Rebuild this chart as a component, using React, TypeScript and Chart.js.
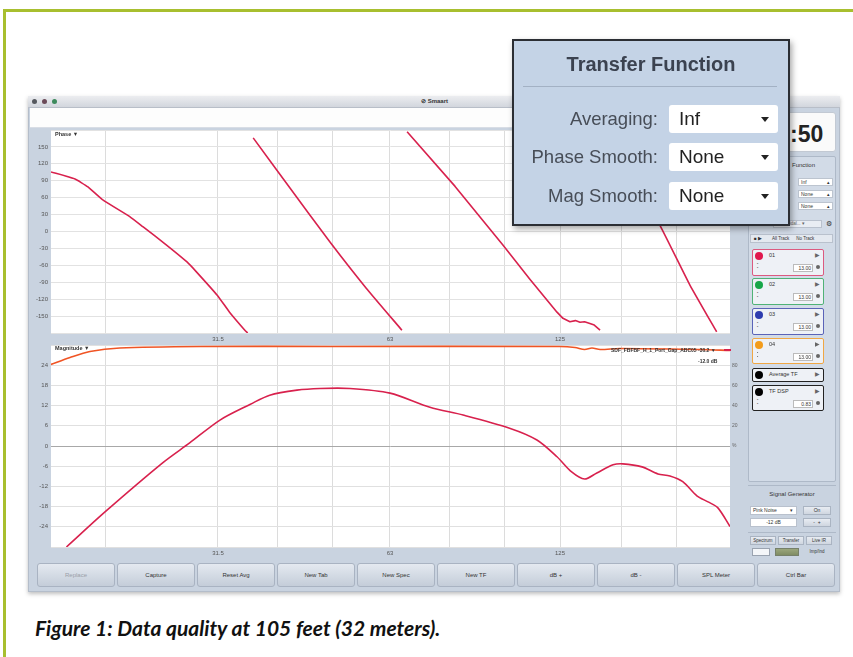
import React, { useEffect, useRef } from "react";
import { Chart, registerables } from "chart.js";

Chart.register(...registerables);

// ---------- DATA ----------
const F_MIN = 16.07;
const F_MAX = 248;
const freqGrid = [20, 31.5, 40, 50, 63, 80, 100, 125, 160, 200];
const freqLabelValues = [31.5, 63, 125];
const freqLabelTexts = ["31.5", "63", "125"];

const phaseTicks = [-180, -150, -120, -90, -60, -30, 0, 30, 60, 90, 120, 150, 180];
const magTicks = [-30, -24, -18, -12, -6, 0, 6, 12, 18, 24, 30];
const cohTicks = [0, 20, 40, 60, 80];

// magnitude (dB)
const magFreq = [17.1, 20, 25.2, 28.1, 31.75, 35.9, 38.8, 43.3, 47.5, 53.6, 63, 74, 84.6, 102, 113.9, 123.5, 131, 138, 145, 154.8, 161, 174, 185.5, 194.7, 205, 217, 227, 236, 248];
const magDb = [-30, -19.5, -5.0, 0.9, 7.7, 12.4, 15.1, 16.6, 17.1, 17.1, 15.7, 11.5, 9.2, 5.3, 1.8, -3.2, -7.7, -9.8, -8.0, -5.6, -5.3, -6.2, -8.3, -8.9, -10.6, -14.8, -16.6, -18.3, -23.9];

// coherence (%)
const cohFreq = [16.07, 17.35, 18.8, 21.2, 29.3, 49.5, 125, 132.8, 138, 142.2, 146.9, 159, 219.7, 248];
const cohPct = [80.8, 87.7, 93.6, 97, 98.5, 98.5, 98.5, 97.5, 95.5, 97, 95.5, 96.5, 95.5, 94.6];

// phase (deg), wrapped segments
const phase1Freq = [16.07, 17.7, 18.65, 19.8, 22.1, 23.3, 25.6, 27.8, 28.9, 31.4, 33.0, 35.1, 35.5];
const phase1Deg = [105.6, 93, 79, 56, 26, 8, -24, -54, -72, -113, -143, -175, -180];
const phase2Freq = [36.3, 42.1, 49.5, 57.2, 66.1];
const phase2Deg = [166, 77, -19, -100, -175];
const phase3Freq = [67.5, 81.9, 99.3, 110.8, 123.5, 126.5, 130.1, 133, 135.5, 138, 141, 143.5, 146.9];
const phase3Deg = [177, 80, -24, -85, -143, -154, -160, -158, -161, -160, -163, -166, -175];
const phase4Freq = [149.8, 187, 211, 235];
const phase4Deg = [178, 11, -95, -178];

const bottomButtons = ["Replace", "Capture", "Reset Avg", "New Tab", "New Spec", "New TF", "dB +", "dB -", "SPL Meter", "Ctrl Bar"];

// ---------- helpers ----------
const pts = (xs: number[], ys: number[]) => xs.map((x, i) => ({ x, y: ys[i] }));
const tickFont = { family: "'Liberation Sans', Arial, sans-serif", size: 6 };
const RED = "#d8214d";
const ORANGE = "#f05424";

const whiteArea = {
  id: "whiteArea",
  beforeDraw(chart: any) {
    const { ctx, chartArea: a } = chart;
    ctx.save();
    ctx.fillStyle = "#ffffff";
    ctx.fillRect(a.left, a.top, a.right - a.left, a.bottom - a.top);
    ctx.restore();
  },
};

const zeroPad = (s: any) => {
  s.paddingTop = 0;
  s.paddingBottom = 0;
  s.paddingLeft = 0;
  s.paddingRight = 0;
};

const xScale = (h: number) => ({
  type: "logarithmic",
  min: F_MIN,
  max: F_MAX,
  afterBuildTicks: (s: any) => {
    s.ticks = freqGrid.map((v) => ({ value: v }));
  },
  afterFit: (s: any) => {
    s.height = h;
    zeroPad(s);
  },
  ticks: {
    autoSkip: false,
    maxRotation: 0,
    minRotation: 0,
    padding: 3,
    font: tickFont,
    color: "#555",
    callback: (v: any) => {
      const i = freqLabelValues.findIndex((f) => Math.abs(f - Number(v)) < 0.01);
      return i >= 0 ? freqLabelTexts[i] : "";
    },
  },
  grid: { color: "#dcdcdc", drawTicks: false, lineWidth: 1 },
  border: { display: false },
});

const lineDs = (data: any[], color: string, width: number, tension: number, yAxisID = "y") => ({
  data,
  borderColor: color,
  borderWidth: width,
  pointRadius: 0,
  tension,
  fill: false,
  yAxisID,
  borderJoinStyle: "round",
});

function PhaseChart() {
  const ref = useRef<HTMLCanvasElement>(null);
  useEffect(() => {
    const chart = new Chart(ref.current as HTMLCanvasElement, {
      type: "line",
      data: {
        datasets: [
          lineDs(pts(phase1Freq, phase1Deg), RED, 1.6, 0.15),
          lineDs(pts(phase2Freq, phase2Deg), RED, 1.6, 0.15),
          lineDs(pts(phase3Freq, phase3Deg), RED, 1.6, 0),
          lineDs(pts(phase4Freq, phase4Deg), RED, 1.6, 0.1),
        ] as any,
      },
      options: {
        animation: false,
        responsive: false,
        maintainAspectRatio: false,
        events: [],
        layout: { padding: { top: 2, right: 12, left: 0, bottom: 0 } },
        plugins: { legend: { display: false }, tooltip: { enabled: false } },
        scales: {
          x: xScale(12) as any,
          y: {
            min: -180,
            max: 180,
            afterBuildTicks: (s: any) => {
              s.ticks = phaseTicks.map((v) => ({ value: v }));
            },
            afterFit: (s: any) => {
              s.width = 21;
              zeroPad(s);
            },
            ticks: {
              font: tickFont,
              color: "#555",
              padding: 3,
              callback: (v: any) => (Math.abs(Number(v)) === 180 ? "" : String(v)),
            },
            grid: { color: "#e2e2e2", drawTicks: false },
            border: { display: false },
          },
        },
      },
      plugins: [whiteArea],
    });
    return () => chart.destroy();
  }, []);
  return <canvas ref={ref} width={712} height={217} style={{ display: "block" }} />;
}

function MagChart() {
  const ref = useRef<HTMLCanvasElement>(null);
  useEffect(() => {
    const chart = new Chart(ref.current as HTMLCanvasElement, {
      type: "line",
      data: {
        datasets: [
          lineDs(pts(cohFreq, cohPct), ORANGE, 1.6, 0.3, "yc"),
          lineDs(pts(magFreq, magDb), RED, 1.6, 0.3, "y"),
        ] as any,
      },
      options: {
        animation: false,
        responsive: false,
        maintainAspectRatio: false,
        events: [],
        layout: { padding: { top: 0, right: 0, left: 0, bottom: 0 } },
        plugins: { legend: { display: false }, tooltip: { enabled: false } },
        scales: {
          x: xScale(14) as any,
          y: {
            min: -30,
            max: 30,
            afterBuildTicks: (s: any) => {
              s.ticks = magTicks.map((v) => ({ value: v }));
            },
            afterFit: (s: any) => {
              s.width = 21;
              zeroPad(s);
            },
            ticks: {
              font: tickFont,
              color: "#555",
              padding: 3,
              callback: (v: any) => (Math.abs(Number(v)) === 30 ? "" : String(v)),
            },
            grid: {
              color: (c: any) => (c.tick && c.tick.value === 0 ? "#a8a8a8" : "#e0e0e0"),
              drawTicks: false,
            },
            border: { display: false },
          },
          yc: {
            position: "right",
            min: -100,
            max: 100,
            afterBuildTicks: (s: any) => {
              s.ticks = cohTicks.map((v) => ({ value: v }));
            },
            afterFit: (s: any) => {
              s.width = 12;
              zeroPad(s);
            },
            ticks: {
              font: { ...tickFont, size: 5 },
              color: "#666",
              padding: 2,
              callback: (v: any) => (Number(v) === 0 ? "%" : String(v)),
            },
            grid: { display: false, drawTicks: false },
            border: { display: false },
          },
        },
      },
      plugins: [whiteArea],
    });
    return () => chart.destroy();
  }, []);
  return <canvas ref={ref} width={712} height={216} style={{ display: "block" }} />;
}

const A = (p: { l: number; t: number; w?: number; h?: number; s?: React.CSSProperties; children?: React.ReactNode }) => (
  <div style={{ position: "absolute", left: p.l, top: p.t, width: p.w, height: p.h, ...p.s }}>{p.children}</div>
);

const tiny: React.CSSProperties = { fontSize: 5.5, color: "#333", lineHeight: "7px", whiteSpace: "nowrap" };

function MeasBox(p: { t: number; h: number; color: string; dot: string; label: string; value?: string }) {
  return (
    <A l={752} t={p.t} w={72} h={p.h} s={{ border: `1.5px solid ${p.color}`, borderRadius: 2, background: "#eef1f6", boxSizing: "border-box" }}>
      <A l={2} t={2} w={8} h={8} s={{ borderRadius: "50%", background: p.dot }} />
      <A l={16} t={2} s={{ ...tiny }}>{p.label}</A>
      <A l={62} t={2} s={{ ...tiny, color: "#666" }}>▶</A>
      {p.value !== undefined && (
        <>
          <A l={4} t={12} s={{ ...tiny, fontSize: 4, lineHeight: "4px", color: "#777" }}>▪<br />▪</A>
          <A l={40} t={14} w={20} h={8} s={{ ...tiny, background: "#fff", border: "1px solid #bbb", textAlign: "right", fontSize: 5, lineHeight: "7px", boxSizing: "border-box", paddingRight: 1 }}>{p.value}</A>
          <A l={63} t={15} w={4} h={4} s={{ borderRadius: "50%", background: "#666" }} />
        </>
      )}
    </A>
  );
}

function Dropdown(p: { t: number; text: string }) {
  return (
    <A l={669} t={p.t} w={109} h={28} s={{ background: "#fff", borderRadius: 3 }}>
      <A l={10} t={3} s={{ fontSize: 19, color: "#222", lineHeight: "22px" }}>{p.text}</A>
      <A l={92} t={12} s={{ width: 0, height: 0, borderLeft: "4px solid transparent", borderRight: "4px solid transparent", borderTop: "5px solid #222" }} />
    </A>
  );
}

export default function App() {
  return (
    <div style={{ position: "absolute", left: 0, top: 0, width: 853, height: 657, background: "#fff", overflow: "hidden", fontFamily: "'Liberation Sans', Arial, sans-serif" }}>
      {/* green frame */}
      <A l={3} t={9} w={850} h={648} s={{ borderTop: "3px solid #a8bf2f", borderLeft: "3px solid #a8bf2f", boxSizing: "border-box" }} />

      {/* app window */}
      <A l={28} t={96} w={812} h={496} s={{ background: "#c9d3e0", border: "1px solid #b4bdca", boxShadow: "0 2px 4px rgba(0,0,0,0.25)", boxSizing: "border-box" }} />
      <A l={28} t={96} w={812} h={12} s={{ background: "linear-gradient(#ecedf0,#d2d6dd)", borderBottom: "1px solid #b8bec8", boxSizing: "border-box" }} />
      <A l={32} t={99} w={5} h={5} s={{ borderRadius: "50%", background: "#55585e" }} />
      <A l={42} t={99} w={5} h={5} s={{ borderRadius: "50%", background: "#6b4a58" }} />
      <A l={52} t={99} w={5} h={5} s={{ borderRadius: "50%", background: "#3d8a5c" }} />
      <A l={421} t={98} s={{ ...tiny, fontWeight: "bold", fontSize: 6 }}>⊘ Smaart</A>

      {/* toolbar strip */}
      <A l={30} t={108} w={712} h={20} s={{ background: "#fdfdfd", borderBottom: "1px solid #d8dde5", boxSizing: "border-box" }} />

      {/* charts */}
      <A l={30} t={128} w={712} h={217}>
        <PhaseChart />
      </A>
      <A l={30} t={345} w={712} h={216}>
        <MagChart />
      </A>
      <A l={55} t={131} s={{ ...tiny, fontWeight: "bold", fontSize: 5.5 }}>Phase ▼</A>
      <A l={55} t={345} s={{ ...tiny, fontWeight: "bold", fontSize: 5.5 }}>Magnitude ▼</A>
      <A l={611} t={347} s={{ ...tiny, fontWeight: "bold", fontSize: 5 }}>SDF_FBFBF_H_1_Port_Gap_ABC05 -30.2 ▼</A>
      <A l={698} t={358} s={{ ...tiny, fontWeight: "bold", fontSize: 5 }}>-12.0 dB</A>
      <A l={724} t={349} w={7} h={1.5} s={{ background: RED }} />

      {/* bottom buttons */}
      {bottomButtons.map((b, i) => (
        <A key={b} l={37 + i * 80} t={563} w={78} h={24} s={{ background: "linear-gradient(#e4e9f0,#c4cdd9)", border: "1px solid #a9b3c2", borderRadius: 3, boxSizing: "border-box", textAlign: "center", fontSize: 6, lineHeight: "22px", color: i === 0 ? "#9aa0a8" : "#333" }}>
          {b}
        </A>
      ))}

      {/* sidebar */}
      <A l={749} t={112} w={87} h={40} s={{ background: "#fafafa", borderRadius: 3, border: "1px solid #c2c9d3", boxSizing: "border-box" }} />
      <A l={790} t={121} s={{ fontSize: 23, fontWeight: "bold", color: "#222", lineHeight: "26px" }}>:50</A>
      <A l={748} t={156} w={88} h={326} s={{ background: "#d2dbe7", border: "1px solid #aeb9c8", boxSizing: "border-box", borderRadius: 2 }} />
      <A l={792} t={162} s={{ ...tiny, fontSize: 6 }}>Function</A>
      {["Inf", "None", "None"].map((t, i) => (
        <A key={i} l={798} t={178 + i * 12} w={35} h={8} s={{ ...tiny, background: "#fff", border: "1px solid #bcc4cf", boxSizing: "border-box", fontSize: 5, lineHeight: "6px", paddingLeft: 2 }}>
          {t}
          <span style={{ position: "absolute", right: 2, top: 0 }}>▴</span>
        </A>
      ))}
      <A l={752} t={221} s={{ ...tiny, fontSize: 5 }}>TRK</A>
      <A l={773} t={220} w={49} h={8} s={{ ...tiny, background: "#e9edf3", border: "1px solid #b9c1cd", boxSizing: "border-box", fontSize: 4.5, lineHeight: "6px", paddingLeft: 2, color: "#666" }}>Sinusoidal... ▾</A>
      <A l={826} t={220} s={{ ...tiny, fontSize: 7 }}>⚙</A>
      <A l={750} t={234} w={83} h={9} s={{ ...tiny, background: "#e4e9f0", border: "1px solid #b9c1cd", boxSizing: "border-box", fontSize: 4.5, lineHeight: "7px" }}>
        <span style={{ marginLeft: 3 }}>■ ▶</span>
        <span style={{ marginLeft: 10 }}>All Track</span>
        <span style={{ marginLeft: 7 }}>No Track</span>
      </A>
      <MeasBox t={249} h={27} color="#dc5a80" dot="#e0184e" label="01" value="13.00" />
      <MeasBox t={278} h={27} color="#4fb276" dot="#17a648" label="02" value="13.00" />
      <MeasBox t={308} h={27} color="#5a63b8" dot="#2e3caf" label="03" value="13.00" />
      <MeasBox t={338} h={26} color="#f0a744" dot="#f39c1b" label="04" value="13.00" />
      <MeasBox t={368} h={14} color="#222" dot="#000" label="Average TF" />
      <MeasBox t={385} h={26} color="#222" dot="#000" label="TF DSP" value="0.83" />

      {/* signal generator */}
      <A l={748} t={485} w={88} h={1} s={{ background: "#aeb9c8" }} />
      <A l={748} t={491} w={88} s={{ ...tiny, fontSize: 6, textAlign: "center" }}>Signal Generator</A>
      <A l={750} t={506} w={47} h={9} s={{ ...tiny, background: "#fff", border: "1px solid #b9c1cd", boxSizing: "border-box", fontSize: 5, lineHeight: "7px", paddingLeft: 2 }}>Pink Noise<span style={{ position: "absolute", right: 3 }}>▾</span></A>
      <A l={803} t={506} w={28} h={9} s={{ ...tiny, background: "linear-gradient(#e8ecf2,#cfd6e0)", border: "1px solid #aab4c2", boxSizing: "border-box", fontSize: 5, lineHeight: "7px", textAlign: "center" }}>On</A>
      <A l={750} t={518} w={47} h={9} s={{ ...tiny, background: "#fff", border: "1px solid #b9c1cd", boxSizing: "border-box", fontSize: 5, lineHeight: "7px", textAlign: "center" }}>-12 dB</A>
      <A l={803} t={518} w={28} h={9} s={{ ...tiny, background: "linear-gradient(#e8ecf2,#cfd6e0)", border: "1px solid #aab4c2", boxSizing: "border-box", fontSize: 5, lineHeight: "7px", textAlign: "center" }}>-&nbsp;&nbsp;+</A>
      <A l={748} t={532} w={88} h={1} s={{ background: "#aeb9c8" }} />
      {["Spectrum", "Transfer", "Live IR"].map((t, i) => (
        <A key={t} l={750 + i * 28} t={536} w={26} h={9} s={{ ...tiny, background: "linear-gradient(#e8ecf2,#cfd6e0)", border: "1px solid #aab4c2", boxSizing: "border-box", fontSize: 4.5, lineHeight: "7px", textAlign: "center" }}>{t}</A>
      ))}
      <A l={752} t={548} w={18} h={8} s={{ background: "#f4f6f9", border: "1px solid #9aa3b0", boxSizing: "border-box" }} />
      <A l={775} t={548} w={24} h={8} s={{ background: "linear-gradient(#9aa67c,#7f8c64)", border: "1px solid #76806a", boxSizing: "border-box" }} />
      <A l={803} t={548} w={28} h={8} s={{ ...tiny, fontSize: 4.5, lineHeight: "8px", textAlign: "center" }}>Imp/Ind</A>

      {/* Transfer Function popup */}
      <A l={512} t={39} w={278} h={187} s={{ background: "#c4d3e6", border: "2px solid #2b2e34", boxSizing: "border-box", boxShadow: "2px 3px 6px rgba(0,0,0,0.35)" }} />
      <A l={512} t={51} w={278} s={{ textAlign: "center", fontSize: 20, fontWeight: "bold", color: "#3b4250", lineHeight: "26px" }}>Transfer Function</A>
      <A l={523} t={86} w={254} h={1} s={{ background: "#a3b1c4" }} />
      <A l={520} t={107} w={138} s={{ textAlign: "right", fontSize: 18.5, color: "#474d57", lineHeight: "24px" }}>Averaging:</A>
      <A l={520} t={145} w={138} s={{ textAlign: "right", fontSize: 18.5, color: "#474d57", lineHeight: "24px" }}>Phase Smooth:</A>
      <A l={520} t={184} w={138} s={{ textAlign: "right", fontSize: 18.5, color: "#474d57", lineHeight: "24px" }}>Mag Smooth:</A>
      <Dropdown t={105} text="Inf" />
      <Dropdown t={143} text="None" />
      <Dropdown t={182} text="None" />

      {/* caption */}
      <A l={35} t={617} s={{ fontFamily: "Lato, 'Open Sans', sans-serif", fontStyle: "italic", fontWeight: "bold", fontSize: 21, lineHeight: "21px", color: "#111", whiteSpace: "nowrap" }}>
        Figure 1: Data quality at 105 feet (32 meters).
      </A>
    </div>
  );
}
